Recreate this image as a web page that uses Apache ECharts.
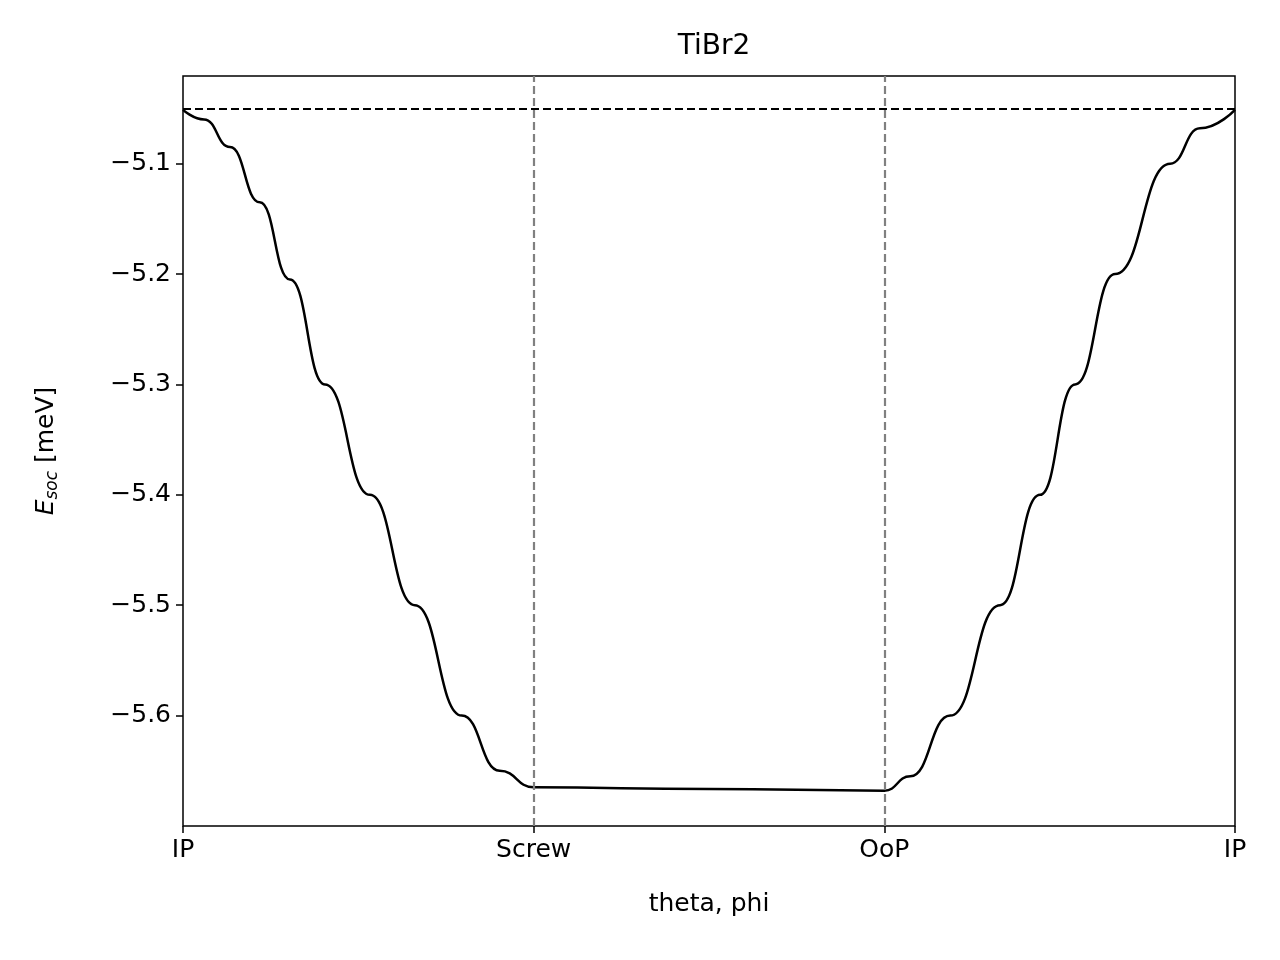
<!DOCTYPE html>
<html>
<head>
<meta charset="utf-8">
<script src="https://cdn.jsdelivr.net/npm/echarts@6/dist/echarts.min.js"></script>
<style>html,body{margin:0;padding:0;background:#fff}#chart{width:1280px;height:960px}</style>
</head>
<body>
<div id="chart"></div>
<script>
var tickLabels = ['IP', 'Screw', 'OoP', 'IP'];
var xs = [0, 0.06, 0.134, 0.219, 0.305, 0.405, 0.533, 0.661, 0.795, 0.903, 1.0, 1.5, 2.0, 2.074, 2.188, 2.33, 2.444, 2.544, 2.658, 2.815, 2.9, 3.0];
var esoc = [-5.0513, -5.06, -5.085, -5.135, -5.205, -5.3, -5.4, -5.5, -5.6, -5.65, -5.665, -5.6665, -5.668, -5.655, -5.6, -5.5, -5.4, -5.3, -5.2, -5.1, -5.068, -5.0513];
var refLevel = -5.0513;

var chart = echarts.init(document.getElementById('chart'));
var font = 'DejaVu Sans';
chart.setOption({
	animation: false,
	title: { text: 'TiBr2', left: 709, textAlign: 'center', top: 28, textStyle: { fontFamily: font, fontSize: 28, fontWeight: 'normal', color: '#000' } },
	grid: { left: 183, right: 45, top: 76, bottom: 134, show: true, borderColor: '#000', borderWidth: 1.5 },
	xAxis: {
		type: 'value', min: 0, max: 3, interval: 1,
		name: 'theta, phi', nameLocation: 'middle', nameGap: 66,
		nameTextStyle: { fontFamily: font, fontSize: 25, color: '#000' },
		axisLine: { show: false }, splitLine: { show: false },
		axisTick: { show: true, length: 7, lineStyle: { color: '#000', width: 1.5 } },
		axisLabel: { fontFamily: font, fontSize: 25, color: '#000', margin: 12, formatter: function(v) { return tickLabels[Math.round(v)]; } }
	},
	yAxis: {
		type: 'value', min: -5.7, max: -5.0206, interval: 0.1,
		name: '{i|E}{s|soc} [meV]', nameLocation: 'middle', nameGap: 122,
		nameTextStyle: { fontFamily: font, fontSize: 25, color: '#000',
			rich: { i: { fontFamily: font, fontStyle: 'italic', fontSize: 25 }, s: { fontFamily: font, fontStyle: 'italic', fontSize: 17, verticalAlign: 'bottom', padding: [12, 0, 0, 0] } } },
		axisLine: { show: false }, splitLine: { show: false },
		axisTick: { show: true, length: 7, lineStyle: { color: '#000', width: 1.5 } },
		axisLabel: { fontFamily: font, fontSize: 25, color: '#000', margin: 12, showMinLabel: false, showMaxLabel: false,
			formatter: function(v) { return v.toFixed(1).replace('-', '\u2212'); } }
	},
	series: [{
		type: 'line', smooth: 0.5, smoothMonotone: 'x', symbol: 'none',
		data: xs.map(function(x, i) { return [x, esoc[i]]; }),
		lineStyle: { color: '#000', width: 2.5 },
		markLine: {
			silent: true, symbol: 'none', label: { show: false },
			data: [
				{ xAxis: 1, lineStyle: { color: '#808080', type: [8, 4], width: 2.2 } },
				{ xAxis: 2, lineStyle: { color: '#808080', type: [8, 4], width: 2.2 } },
				{ yAxis: refLevel, lineStyle: { color: '#000', type: [8, 4], width: 2.2 } }
			]
		}
	}]
});
</script>
</body>
</html>
